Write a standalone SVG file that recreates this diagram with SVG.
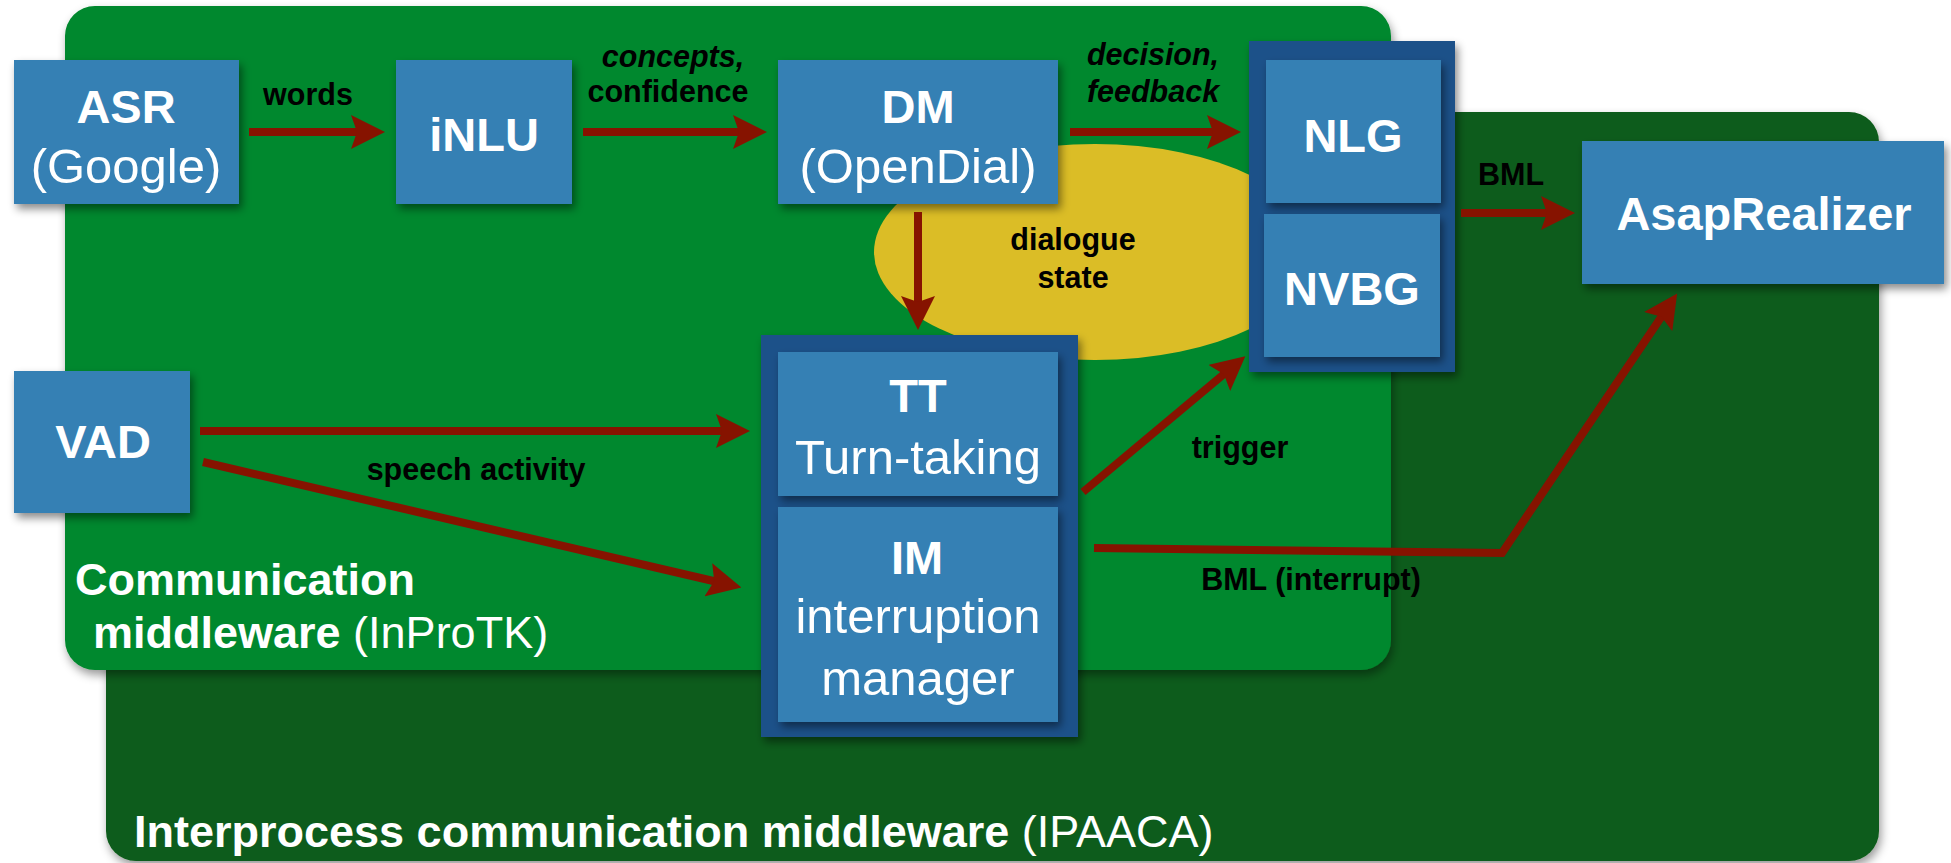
<svg xmlns="http://www.w3.org/2000/svg" width="1951" height="863" viewBox="0 0 1951 863">
<defs>
<style>
.box{fill:#3480b4;filter:url(#sh)}
.cont{fill:#1a5189;filter:url(#sh)}
.t{font-family:"Liberation Sans",Arial,sans-serif;fill:#fff;text-anchor:middle}
.b{font-weight:bold;font-size:47px}
.r{font-weight:normal;font-size:49px}
.lbl{font-family:"Liberation Sans",Arial,sans-serif;font-weight:bold;font-size:30.5px;fill:#000;text-anchor:middle}
.it{font-style:italic}
.big{font-family:"Liberation Sans",Arial,sans-serif;fill:#fff;font-size:45px}
.conn{fill:none;stroke:#861300;stroke-width:8;marker-end:url(#ah)}
</style>
<filter id="sh" x="-10%" y="-10%" width="130%" height="130%">
<feDropShadow dx="3" dy="5" stdDeviation="4" flood-color="#000" flood-opacity="0.45"/>
</filter>
<filter id="sh2" x="-5%" y="-5%" width="110%" height="110%">
<feDropShadow dx="2" dy="5" stdDeviation="5" flood-color="#000" flood-opacity="0.4"/>
</filter>
<marker id="ah" markerUnits="userSpaceOnUse" viewBox="0 0 34 34" refX="14" refY="17" markerWidth="34" markerHeight="34" orient="auto">
<path d="M0,0 L34,17 L0,34 L6,17 Z" fill="#861300"/>
</marker>
</defs>

<g id="ipaaca">
<rect x="106" y="112" width="1773" height="749" rx="30" fill="#0d5c1a" filter="url(#sh2)"/>
<text class="big" x="134" y="847"><tspan font-weight="bold">Interprocess communication middleware</tspan> (IPAACA)</text>
</g>

<g id="inprotk">
<rect x="65" y="6" width="1326" height="664" rx="30" fill="#02882d" filter="url(#sh2)"/>
<text class="big" font-weight="bold" x="75" y="595">Communication</text>
<text class="big" x="93" y="648"><tspan font-weight="bold">middleware</tspan> (InProTK)</text>
</g>

<g id="dialogue-state">
<ellipse cx="1095" cy="252" rx="221" ry="108" fill="#dbbd26"/>
<text class="lbl" x="1073" y="250">dialogue</text>
<text class="lbl" x="1073" y="288">state</text>
</g>

<g id="asr">
<rect class="box" x="14" y="60" width="225" height="144"/>
<text class="t b" x="126" y="123">ASR</text>
<text class="t r" x="126" y="183">(Google)</text>
</g>

<g id="inlu">
<rect class="box" x="396" y="60" width="176" height="144"/>
<text class="t b" x="484" y="151">iNLU</text>
</g>

<g id="dm">
<rect class="box" x="778" y="60" width="280" height="144"/>
<text class="t b" x="918" y="123">DM</text>
<text class="t r" x="918" y="183">(OpenDial)</text>
</g>

<g id="nlg-nvbg">
<rect class="cont" x="1249" y="41" width="206" height="331"/>
<g id="nlg">
<rect class="box" x="1266" y="60" width="175" height="143"/>
<text class="t b" x="1353" y="152">NLG</text>
</g>
<g id="nvbg">
<rect class="box" x="1264" y="214" width="176" height="143"/>
<text class="t b" x="1352" y="305">NVBG</text>
</g>
</g>

<g id="asaprealizer">
<rect class="box" x="1582" y="141" width="362" height="143"/>
<text class="t b" x="1764" y="230">AsapRealizer</text>
</g>

<g id="vad">
<rect class="box" x="14" y="371" width="176" height="142"/>
<text class="t b" x="103" y="458">VAD</text>
</g>

<g id="tt-im">
<rect class="cont" x="761" y="335" width="317" height="402"/>
<g id="tt">
<rect class="box" x="778" y="352" width="280" height="144"/>
<text class="t b" x="918" y="412">TT</text>
<text class="t r" x="918" y="474">Turn-taking</text>
</g>
<g id="im">
<rect class="box" x="778" y="507" width="280" height="215"/>
<text class="t b" x="917" y="574">IM</text>
<text class="t r" x="918" y="633">interruption</text>
<text class="t r" x="918" y="695">manager</text>
</g>
</g>

<g id="connectors">
<path class="conn" d="M249,132 L365,132"/>
<path class="conn" d="M583,132 L747,132"/>
<path class="conn" d="M1070,132 L1221,132"/>
<path class="conn" d="M1461,213 L1555,213"/>
<path class="conn" d="M918,212 L918,310"/>
<path class="conn" d="M200,431 L730,431"/>
<path class="conn" d="M203,462 L722,583"/>
<path class="conn" d="M1083,492 L1230,369"/>
<path class="conn" d="M1094,548 L1502,553 L1666,310"/>
<text class="lbl" x="308" y="105">words</text>
<text class="lbl it" x="673" y="67">concepts,</text>
<text class="lbl" x="668" y="102">confidence</text>
<text class="lbl it" x="1153" y="65">decision,</text>
<text class="lbl it" x="1153" y="102">feedback</text>
<text class="lbl" x="1511" y="185">BML</text>
<text class="lbl" x="476" y="480">speech activity</text>
<text class="lbl" x="1240" y="458">trigger</text>
<text class="lbl" x="1311" y="590">BML (interrupt)</text>
</g>
</svg>
